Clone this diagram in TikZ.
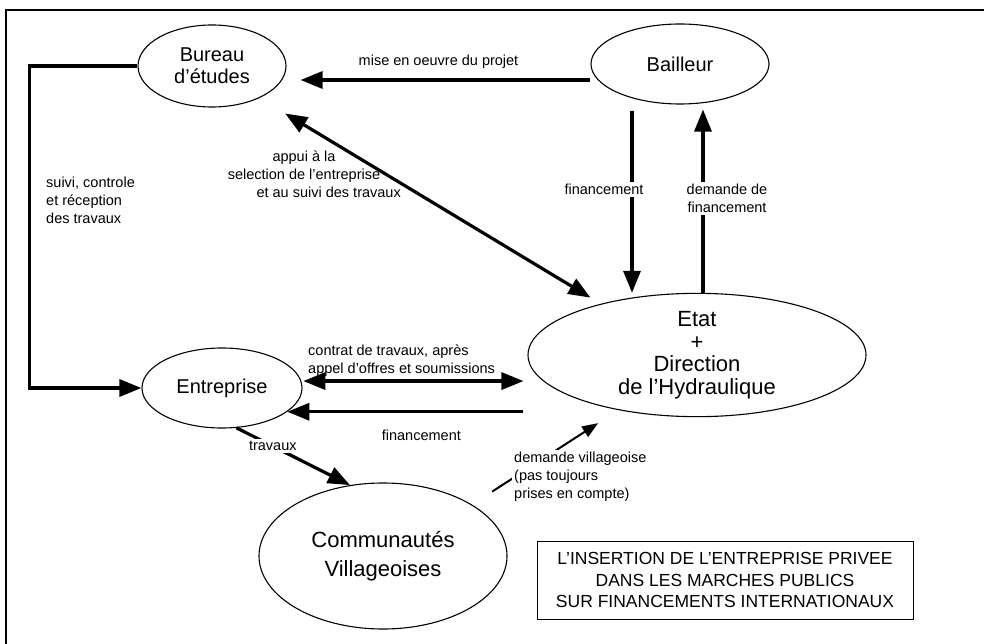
\documentclass[tikz,border=0pt]{standalone}
\usepackage{fontspec}
\setmainfont{Liberation Sans}
\usetikzlibrary{arrows.meta, shapes.geometric, positioning}

\begin{document}
\begin{tikzpicture}[x=1pt, y=-1pt,
   >={Triangle[length=22pt, width=17pt]},
   actor/.style={draw, ellipse, line width=1.1pt, inner sep=0pt, align=center,
                 font=\fontsize{20}{22}\selectfont},
   arr/.style={->, line width=3.2pt},
   dbl/.style={<->, line width=3.2pt},
   lab/.style={font=\fontsize{14.5}{18}\selectfont, inner sep=2pt}]
  \useasboundingbox (0,0) rectangle (984,644);
  % cadre
  \draw[line width=1.2pt] (6,644) -- (6,10) -- (984,10);

  \node[actor, minimum width=148, minimum height=82] (bur) at (212,66) {Bureau\\d'études};
  \node[actor, minimum width=178, minimum height=80] (bail) at (680,64) {Bailleur};
  \node[actor, minimum width=338, minimum height=122, font=\fontsize{22}{22.5}\selectfont]
     (etat) at (697,355) {Etat\\+\\Direction\\de l'Hydraulique};
  \node[actor, minimum width=160, minimum height=80] (ent) at (222,388) {Entreprise};
  \node[actor, minimum width=248, minimum height=146, font=\fontsize{22}{29}\selectfont]
     (comm) at (383,556) {Communautés\\Villageoises};
  \node[draw, line width=1pt, minimum width=376, minimum height=78, align=center,
        font=\fontsize{17.5}{21.5}\selectfont] (titre) at (725,580)
     {L'INSERTION DE L'ENTREPRISE PRIVEE\\DANS LES MARCHES PUBLICS\\SUR FINANCEMENTS INTERNATIONAUX};

  % flux
  \draw[arr, shorten >=14pt] (bail.west |- 0,80) -- (bur.east |- 0,80)
     node[lab, midway, above=8pt] {mise en oeuvre du projet};
  \draw[arr] (bur.west) -- ++(-108,0) |- (ent.west);
  \node[lab, align=left, anchor=west] (suivi) at (44,200) {suivi, controle\\et réception\\des travaux};
  \draw[dbl, shorten <=30pt, shorten >=12pt] (bur.-34) -- (etat.152);
  \node[lab, align=center] (appui) at (304,174)
     {appui à la\\selection de l'entreprise\\\hspace*{3.4em}et au suivi des travaux};
  \draw[arr, shorten <=6pt] ([xshift=-48]bail.south) -- ([xshift=-48]bail.south |- etat.north)
     node[lab, pos=0.45, fill=white, xshift=-28] {financement};
  \draw[arr, shorten >=5pt] ([xshift=23]bail.south |- etat.north) -- ([xshift=23]bail.south)
     node[lab, pos=0.5, fill=white, xshift=24, align=center] {demande de\\financement};
  \draw[dbl, shorten <=2pt, shorten >=4pt] (ent.5) -- (ent.5 -| etat.west);
  \node[lab, align=left, anchor=south west] (contrat) at (306,379)
     {contrat de travaux, après\\appel d'offres et soumissions};
  \draw[arr, shorten <=4pt] (ent.-20 -| etat.west) -- (ent.-20)
     node[lab, midway, below=15pt, xshift=14pt] {financement};
  \draw[arr] (ent.-70) -- (comm.115)
     node[lab, pos=0.32, fill=white] {travaux};
  \draw[->, >={Triangle[length=16pt, width=12pt]}, line width=2pt,
        shorten <=24pt, shorten >=24pt] (comm.30) -- (etat.215);
  \node[lab, align=left, anchor=north west, fill=white] (vill) at (512,450)
     {demande villageoise\\(pas toujours\\prises en compte)};
\end{tikzpicture}
\end{document}
